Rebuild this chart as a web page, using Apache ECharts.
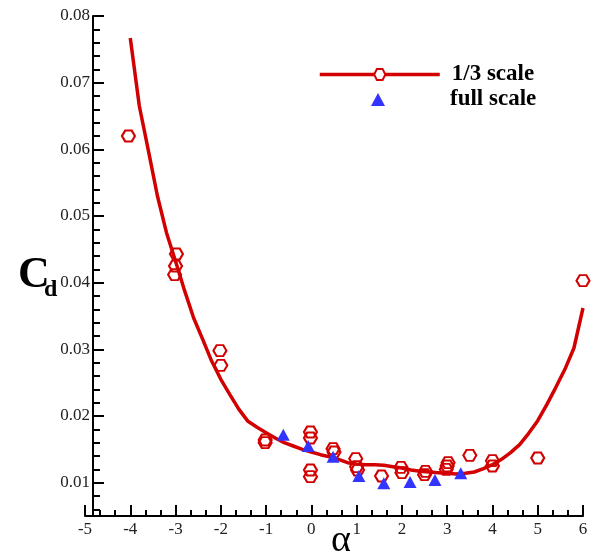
<!DOCTYPE html>
<html>
<head>
<meta charset="utf-8">
<script src="https://cdn.jsdelivr.net/npm/echarts@6/dist/echarts.min.js"></script>
<style>
  html, body { margin: 0; padding: 0; background: #fff; }
  #chart { width: 599px; height: 555px; }
</style>
</head>
<body>
<div id="chart"></div>
<script>
// fitted curve, 1/3 scale model
var curveAlpha = [-4.0, -3.8, -3.6, -3.4, -3.2, -3.0, -2.8, -2.6, -2.4, -2.2, -2.0, -1.8, -1.6, -1.4, -1.2, -1.0,
    -0.8, -0.6, -0.4, -0.2, 0.0, 0.2, 0.4, 0.6, 0.8, 1.0, 1.2, 1.4, 1.6, 1.8, 2.0, 2.2, 2.4, 2.6, 2.8, 3.0,
    3.2, 3.4, 3.6, 3.8, 4.0, 4.2, 4.4, 4.6, 4.8, 5.0, 5.2, 5.4, 5.6, 5.8, 6.0];
var curveCd = [0.0767, 0.0665, 0.0598, 0.0530, 0.0475, 0.0432, 0.0388, 0.0347, 0.0315, 0.0282, 0.0255, 0.0232, 0.0210, 0.0192, 0.0183, 0.0175,
    0.0167, 0.0160, 0.0155, 0.0150, 0.0146, 0.0142, 0.0139, 0.0135, 0.0130, 0.0128, 0.0127, 0.0127, 0.0126, 0.0124, 0.0122, 0.0119, 0.0117, 0.0116, 0.0115, 0.0114,
    0.0113, 0.0114, 0.0116, 0.0121, 0.0127, 0.0135, 0.0145, 0.0157, 0.0174, 0.0193, 0.0217, 0.0243, 0.0270, 0.0302, 0.0362];

// measured points, 1/3 scale (hexagons)
var hexAlpha = [-4.04, -2.98, -3.0, -3.02, -2.02, -2.0, -1.02, -1.02, -0.02, -0.02, -0.02, -0.02, 0.48, 0.5, 0.98, 1.0, 1.02,
    1.55, 1.98, 2.0, 2.52, 2.5, 3.02, 3.0, 2.98, 3.5, 4.0, 4.0, 5.0, 6.0];
var hexCd = [0.0620, 0.0443, 0.0425, 0.0412, 0.0298, 0.0276, 0.0164, 0.0160, 0.0176, 0.0167, 0.0119, 0.0109, 0.0151, 0.0146, 0.0136, 0.0124, 0.0119,
    0.0110, 0.0123, 0.0115, 0.0117, 0.0112, 0.0130, 0.0125, 0.0120, 0.0141, 0.0133, 0.0125, 0.0137, 0.0403];

// full scale (triangles)
var triAlpha = [-0.62, -0.07, 0.48, 1.05, 1.6, 2.18, 2.73, 3.3];
var triCd = [0.0172, 0.0155, 0.0139, 0.0110, 0.0099, 0.0101, 0.0104, 0.0114];

var xTicks = [-5, -4, -3, -2, -1, 0, 1, 2, 3, 4, 5, 6];
var yMajor = [0.01, 0.02, 0.03, 0.04, 0.05, 0.06, 0.07, 0.08];
var yMinor = [0.006, 0.008, 0.012, 0.014, 0.016, 0.018, 0.022, 0.024, 0.026, 0.028, 0.032, 0.034, 0.036, 0.038,
    0.042, 0.044, 0.046, 0.048, 0.052, 0.054, 0.056, 0.058, 0.062, 0.064, 0.066, 0.068, 0.072, 0.074, 0.076, 0.078];

var red = '#d20000';
var blue = '#3434ff';
var hexPath = 'path://M0,5 L3,0 L9,0 L12,5 L9,10 L3,10 Z';
var serif = 'Liberation Serif';

function pairs(xs, ys) {
    return xs.map(function (x, i) { return [x, ys[i]]; });
}

var legendText = { fontFamily: serif, fontWeight: 'bold', fontSize: 23, color: '#000' };

var myChart = echarts.init(document.getElementById('chart'));
var option = {
    animation: false,
    grid: { left: 85, right: 16, top: 16, bottom: 39 },
    legend: [{
        data: ['1/3 scale'],
        left: 313,
        top: 58,
        itemWidth: 120,
        itemHeight: 14,
        lineStyle: { width: 3.5 },
        textStyle: Object.assign({ padding: [0, 0, 0, 7] }, legendText)
    }, {
        data: ['full scale'],
        left: 366,
        top: 83,
        itemWidth: 14,
        itemHeight: 13,
        textStyle: Object.assign({ padding: [0, 0, 0, 60] }, legendText)
    }],
    xAxis: {
        type: 'value',
        min: -5,
        max: 6,
        interval: 1,
        axisLine: { onZero: false, lineStyle: { color: '#000', width: 2 } },
        axisTick: { inside: true, length: 11, lineStyle: { color: '#000', width: 2 } },
        minorTick: { show: true, splitNumber: 3, length: 6, lineStyle: { color: '#000', width: 2 } },
        axisLabel: {
            margin: 5, fontFamily: serif, fontSize: 17, color: '#222',
            customValues: xTicks
        },
        splitLine: { show: false }
    },
    yAxis: [{
        type: 'value',
        position: 'left',
        min: 0.005,
        max: 0.08,
        offset: -8,
        axisLine: { show: true, onZero: false, lineStyle: { color: '#000', width: 2 } },
        axisTick: { show: true, inside: true, length: 11, customValues: yMajor, lineStyle: { color: '#000', width: 2 } },
        axisLabel: {
            margin: 3, fontFamily: serif, fontSize: 17, color: '#222',
            customValues: yMajor,
            formatter: function (v) { return v.toFixed(2); }
        },
        splitLine: { show: false }
    }, {
        type: 'value',
        position: 'left',
        min: 0.005,
        max: 0.08,
        offset: -8,
        axisLine: { show: false, onZero: false },
        axisTick: { show: true, inside: true, length: 7, customValues: yMinor, lineStyle: { color: '#000', width: 2 } },
        axisLabel: { show: false },
        splitLine: { show: false }
    }],
    graphic: [
        { type: 'text', left: 18, top: 254, style: { text: 'C', font: 'bold 44px "Liberation Serif"', fill: '#000' } },
        { type: 'text', left: 44, top: 278, style: { text: 'd', font: 'bold 24px "Liberation Serif"', fill: '#000' } },
        { type: 'text', left: 331, top: 522, style: { text: 'α', font: '38px "Liberation Serif"', fill: '#000' } }
    ],
    series: [
        {
            name: '1/3 scale',
            type: 'line',
            data: pairs(curveAlpha, curveCd),
            symbol: hexPath,
            showSymbol: false,
            lineStyle: { color: red, width: 3.5 },
            itemStyle: { color: '#fff', borderColor: red, borderWidth: 2 },
            z: 2
        },
        {
            name: '1/3 scale data',
            type: 'scatter',
            data: pairs(hexAlpha, hexCd),
            symbol: hexPath,
            symbolSize: [13, 11],
            itemStyle: { color: 'rgba(255,255,255,0)', borderColor: red, borderWidth: 2, opacity: 1 },
            z: 3
        },
        {
            name: 'full scale',
            type: 'scatter',
            data: pairs(triAlpha, triCd),
            symbol: 'triangle',
            symbolSize: [13, 12],
            itemStyle: { color: blue, opacity: 1 },
            z: 4
        }
    ]
};
myChart.setOption(option);
</script>
</body>
</html>
